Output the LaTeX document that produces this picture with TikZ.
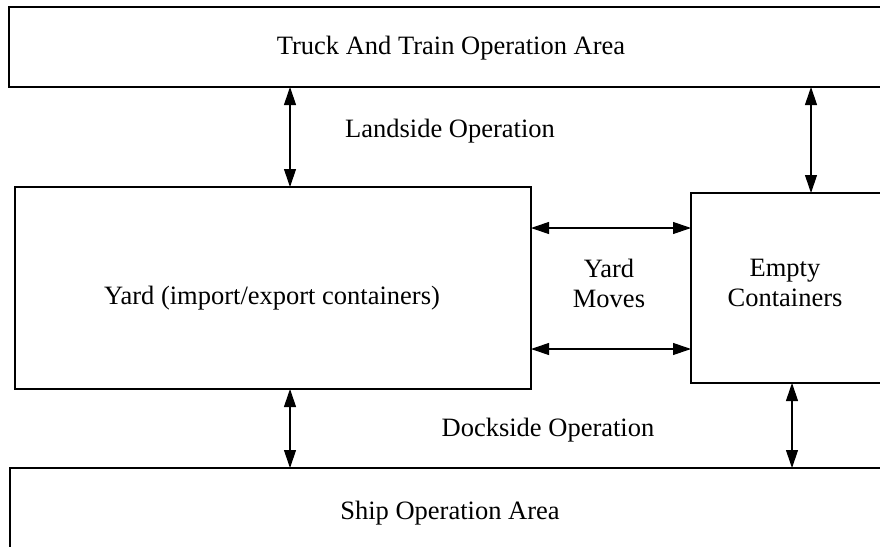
\documentclass[tikz,border=0pt]{standalone}
\usepackage{fontspec}
\setmainfont{Liberation Serif}
\usetikzlibrary{arrows.meta}
\begin{document}
\begin{tikzpicture}[x=1pt,y=-1pt,
  area/.style={draw=black,line width=1.4pt},
  flow/.style={line width=1.1pt,{Triangle[width=12pt,length=18pt]}-{Triangle[width=12pt,length=18pt]}},
  lbl/.style={font=\fontsize{26.5}{30}\selectfont,align=center},
  every node/.style={lbl}]
\useasboundingbox (0,0) rectangle (880,546);
% operation areas (they run past the right and bottom edges)
\draw[area] (884,7) -- (9,7) -- (9,87) -- (884,87);
\draw[area] (884,468) -- (10,468) -- (10,550);
% yards
\draw[area] (15,187) rectangle (531,389);
\draw[area] (884,193) -- (691,193) -- (691,383) -- (884,383);
% named anchor points for the connectors
\coordinate (tA) at (290,87);  \coordinate (yT) at (290,187);
\coordinate (yB) at (290,389); \coordinate (bA) at (290,468);
\coordinate (tB) at (811,87);  \coordinate (eT) at (811,193);
\coordinate (eB) at (792,383); \coordinate (bB) at (792,468);
\coordinate (yR1) at (531,228); \coordinate (eL1) at (691,228);
\coordinate (yR2) at (531,349); \coordinate (eL2) at (691,349);
\draw[flow] (tA) -- (yT);
\draw[flow] (yB) -- (bA);
\draw[flow] (tB) -- (eT);
\draw[flow] (eB) -- (bB);
\draw[flow] (yR1) -- (eL1);
\draw[flow] (yR2) -- (eL2);
% labels
\node (truck) at (451,48) {Truck And Train Operation Area};
\node (land) at (450,131) {Landside Operation};
\node (yard) at (272,298) {Yard (import/export containers)};
\node (moves) at (609,283) {Yard\\Moves};
\node (empty) at (785,283) {Empty\\Containers};
\node (dock) at (548,430) {Dockside Operation};
\node (ship) at (450,513) {Ship Operation Area};
\end{tikzpicture}
\end{document}
